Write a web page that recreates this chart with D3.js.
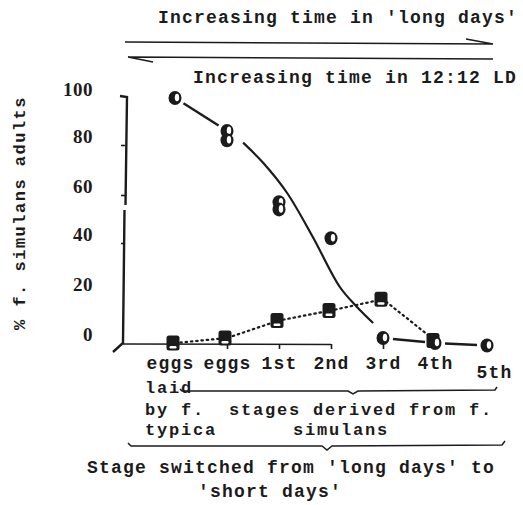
<!DOCTYPE html>
<html>
<head>
<meta charset="utf-8">
<script src="https://cdn.jsdelivr.net/npm/d3@7"></script>
<style>
  html, body { margin: 0; padding: 0; background: #ffffff; }
  svg { display: block; }
  .mono { font-family: "Liberation Mono", "DejaVu Sans Mono", monospace; font-weight: bold; font-size: 18px; letter-spacing: 1.2px; fill: #1b1b1b; }
  .tight { font-size: 17px; letter-spacing: 1.8px; }
  .num { font-family: "Liberation Serif", "DejaVu Serif", serif; font-weight: bold; font-size: 19px; letter-spacing: 0.5px; fill: #1b1b1b; }
</style>
</head>
<body>
<svg id="chart" width="523" height="505"></svg>
<script>
// Developmental stage at which cultures were moved from long to short days
const stages = ["eggs laid by f. typica", "eggs", "1st", "2nd", "3rd", "4th", "5th"];
const stageLabels = ["eggs", "eggs", "1st", "2nd", "3rd", "4th", "5th"];

// % f. simulans adults, half-filled circles (paired replicates share a stage)
const circleStage = [0, 1, 1, 2, 2, 3, 4, 5, 6];
const circleValue = [100, 86, 82, 57, 54, 42, 2, 0, -1];

// % f. simulans adults, square symbols
const squareStage = [0, 1, 2, 3, 4, 5];
const squareValue = [0, 2, 9, 13, 17.5, 1];

// Freehand trend through the circle series (stage, %)
const trendStage = [1.31, 1.69, 2.15, 2.65, 3.17, 3.5, 3.81];
const trendValue = [81, 73, 61, 42.5, 22.4, 14.4, 8];

const yTicks = [0, 20, 40, 60, 80, 100];

const ink = "#1b1b1b";
const svg = d3.select("#chart");

const x = d3.scaleLinear().domain([0, 6]).range([175, 487]);
// hand-ruled axis: tick spacing is uneven, so the scale is piecewise
const y = d3.scaleLinear().domain(yTicks).range([343, 293, 243, 195, 145, 98]);

// ---- top arrows and captions ----
svg.append("text").attr("class", "mono").attr("x", 158).attr("y", 23)
  .text("Increasing time in 'long days'");
svg.append("path").attr("fill", "none").attr("stroke", ink).attr("stroke-width", 1.6)
  .attr("d", "M125,42 L493,44 M466,39 L493,44");
svg.append("path").attr("fill", "none").attr("stroke", ink).attr("stroke-width", 1.6)
  .attr("d", "M128,57 L493,59 M128,57 L153,62");
svg.append("text").attr("class", "mono").attr("x", 193).attr("y", 83)
  .text("Increasing time in 12:12 LD");

// ---- y axis ----
const yAxis = d3.axisLeft(y).tickValues(yTicks).tickSize(4).tickPadding(28);
const gy = svg.append("g").attr("transform", "translate(125,0)").call(yAxis);
gy.select(".domain").remove();
gy.selectAll(".tick line").attr("stroke", ink).attr("stroke-width", 1.6);
gy.selectAll(".tick text").attr("class", "num").attr("dy", "0.1em")
  .attr("transform", "translate(0,-4)");
gy.selectAll(".tick").filter(d => d === 0 || d === 20 || d === 100).select("line").remove();

// broken vertical rule
svg.append("path").attr("fill", "none").attr("stroke", ink).attr("stroke-width", 2.4)
  .attr("d", `M120,${y(100) - 2} L127,${y(100) - 1} L125.5,${y(60) + 10}`);
svg.append("path").attr("fill", "none").attr("stroke", ink).attr("stroke-width", 2.4)
  .attr("d", `M124.5,${y(60) + 15} L123,${y(0)} L113,${y(0) + 9}`);

svg.append("text").attr("class", "mono")
  .attr("transform", "translate(25,213) rotate(-90)")
  .attr("text-anchor", "middle").style("font-size", "17px").style("letter-spacing", "1.5px")
  .text("% f. simulans adults");

// ---- x axis ----
const xAxis = d3.axisBottom(x).tickValues(d3.range(stages.length)).tickSize(5).tickFormat("");
const gx = svg.append("g").attr("transform", `translate(0,${y(0) + 1})`).call(xAxis);
gx.select(".domain").remove();
gx.selectAll(".tick line").attr("stroke", ink).attr("stroke-width", 1.6);
svg.append("line").attr("stroke", ink).attr("stroke-width", 1.6)
  .attr("x1", 123).attr("x2", x(3)).attr("y1", y(0) + 1).attr("y2", y(0) + 1.5);

gx.selectAll(".tick").append("text")
  .attr("class", "mono").attr("text-anchor", "middle").attr("fill", ink)
  .attr("y", (d, i) => i === 6 ? 34 : 25)
  .attr("dx", (d, i) => i === 6 ? 7 : (i === 0 ? -5 : 0))
  .text((d, i) => stageLabels[i]);

// ---- square series, dotted ----
const dotted = d3.line().x((d, i) => x(squareStage[i])).y(d => y(d));
svg.append("path").datum(squareValue).attr("fill", "none").attr("stroke", ink)
  .attr("stroke-width", 2.2).attr("stroke-dasharray", "1.5,3.8").attr("stroke-linecap", "round")
  .attr("d", dotted);

// ---- circle series, solid ----
function shortSeg(ia, ib, pad) {
  const x1 = x(circleStage[ia]), y1 = y(circleValue[ia]);
  const x2 = x(circleStage[ib]), y2 = y(circleValue[ib]);
  const L = Math.hypot(x2 - x1, y2 - y1);
  const ux = (x2 - x1) / L, uy = (y2 - y1) / L;
  return [[x1 + ux * pad, y1 + uy * pad], [x2 - ux * pad, y2 - uy * pad]];
}
const segLine = d3.line();
[[0, 1], [6, 7], [7, 8]].forEach(([a, b]) => {
  svg.append("path").attr("fill", "none").attr("stroke", ink).attr("stroke-width", 2.4)
    .attr("d", segLine(shortSeg(a, b, 10)));
});

const trend = d3.line().curve(d3.curveCatmullRom)
  .x((d, i) => x(trendStage[i])).y(d => y(d));
svg.append("path").datum(trendValue).attr("fill", "none").attr("stroke", ink)
  .attr("stroke-width", 2.2).attr("d", trend);

// square markers
const sq = svg.append("g").selectAll("g").data(squareValue).join("g")
  .attr("transform", (d, i) => `translate(${x(squareStage[i]) - 2},${y(d)})`);
sq.append("rect").attr("x", -6.5).attr("y", -7.5).attr("width", 13).attr("height", 15)
  .attr("rx", 2.5).attr("fill", ink);
sq.append("rect").attr("x", -3.5).attr("y", 3).attr("width", 7).attr("height", 2.5)
  .attr("rx", 1.2).attr("fill", "#fff");

// circle markers
const ci = svg.append("g").selectAll("g").data(circleValue).join("g")
  .attr("transform", (d, i) => `translate(${x(circleStage[i])},${y(d)})`);
ci.append("ellipse").attr("rx", 6.5).attr("ry", 7).attr("fill", ink);
ci.append("ellipse").attr("cx", 2).attr("cy", -0.5).attr("rx", 2.2).attr("ry", 3.8).attr("fill", "#fff");

// ---- stage annotations ----
svg.append("text").attr("class", "mono tight").attr("x", 145).attr("y", 393).text("laid");
svg.append("path").attr("fill", "none").attr("stroke", ink).attr("stroke-width", 1.5)
  .attr("d", "M180,389 L182,391 L348,391 L353,394 L358,391 L495,390 L497,387");
svg.append("text").attr("class", "mono tight").attr("x", 145).attr("y", 415)
  .style("white-space", "pre").text("by f.  stages derived from f.");
svg.append("text").attr("class", "mono tight").attr("x", 145).attr("y", 435).text("typica");
svg.append("text").attr("class", "mono tight").attr("x", 293).attr("y", 435).text("simulans");
svg.append("path").attr("fill", "none").attr("stroke", ink).attr("stroke-width", 1.5)
  .attr("d", "M128,443 L131,446 L322,446 L327,450 L332,446 L502,445 L505,441");
svg.append("text").attr("class", "mono").attr("x", 87).attr("y", 473)
  .text("Stage switched from 'long days' to");
svg.append("text").attr("class", "mono").attr("x", 198).attr("y", 497)
  .text("'short days'");
</script>
</body>
</html>
